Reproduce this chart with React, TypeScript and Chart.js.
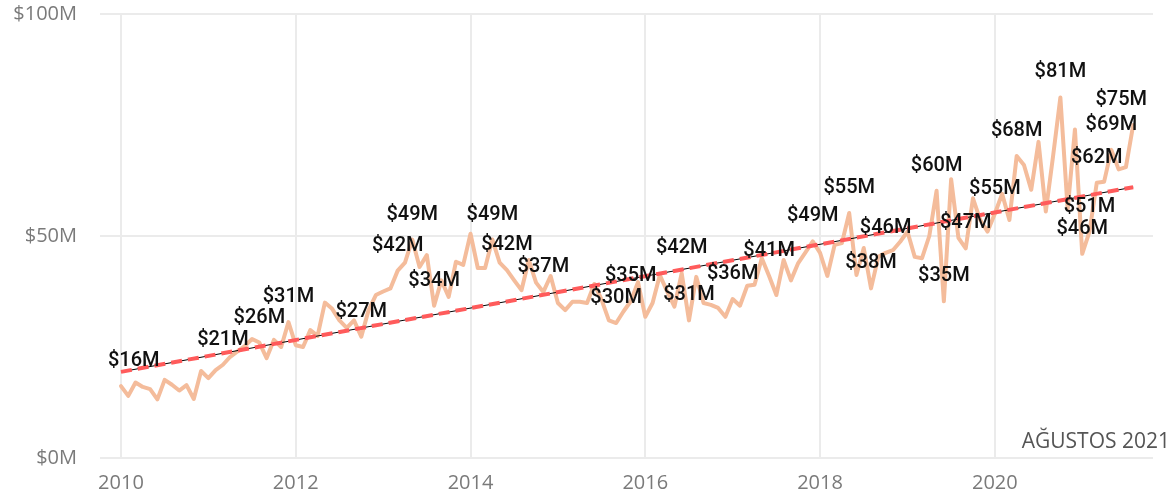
import React, { useEffect, useRef } from "react";
import { Chart, registerables } from "chart.js";

Chart.register(...registerables);

// Monthly revenue ($M), January 2010 – August 2021
const START_YEAR = 2010;
const monthlyRevenue: number[] = [
  16.2, 14.0, 17.0, 16.0, 15.5, 13.2, 17.6, 16.5, 15.2, 16.4, 13.3, 19.6,
  18.0, 19.8, 21.0, 22.8, 24.0, 25.2, 26.8, 26.0, 22.5, 26.6, 25.0, 30.6,
  25.4, 25.0, 28.8, 27.5, 35.0, 33.6, 31.0, 29.3, 31.0, 27.3, 33.3, 36.7,
  37.5, 38.2, 42.2, 44.0, 49.2, 43.0, 45.7, 34.3, 40.0, 36.3, 44.2, 43.5,
  50.5, 42.8, 42.8, 49.2, 44.0, 42.3, 40.0, 37.8, 44.6, 39.5, 37.4, 41.0,
  34.9, 33.3, 35.2, 35.2, 34.9, 39.2, 35.6, 31.0, 30.4, 33.0, 35.3, 39.6,
  31.8, 34.9, 41.2, 37.5, 34.1, 41.6, 31.0, 40.8, 34.9, 34.5, 33.8, 31.8,
  35.8, 34.3, 38.8, 39.0, 45.0, 41.0, 36.7, 44.6, 40.0, 43.9, 46.3, 48.8,
  46.2, 41.0, 48.0, 48.4, 55.2, 41.2, 47.3, 38.2, 45.3, 46.2, 46.8, 48.7,
  51.0, 45.3, 45.0, 50.0, 60.2, 35.3, 62.8, 49.6, 47.2, 58.5, 53.6, 51.0,
  55.0, 59.5, 53.6, 68.0, 66.0, 60.4, 71.2, 55.5, 68.0, 81.2, 56.0, 74.0,
  46.0, 51.0, 62.0, 62.2, 69.4, 65.0, 65.5, 75.0,
];

// Linear trend line end values ($M)
const trendStart = 19.4;
const trendEnd = 61.0;

// Months (index into monthlyRevenue) that carry a data label
const labeledMonths: number[] = [
  0, 14, 19, 23, 33, 38, 40, 43, 51, 53, 58, 68, 70, 77, 78, 84, 89, 95,
  100, 103, 105, 112, 113, 116, 120, 123, 129, 132, 133, 134, 136, 139,
];

const xTickYears: number[] = [2010, 2012, 2014, 2016, 2018, 2020];
const yTickValues: number[] = [0, 50, 100];
const periodNote = "AĞUSTOS 2021";

const X_MIN = 2009.76;
const X_MAX = 2021.81;

const TICK_FONT = "'Segoe UI', 'Open Sans', sans-serif";
const LABEL_FONT = "Roboto, 'DejaVu Sans', sans-serif";

export default function App() {
  const ref = useRef<HTMLCanvasElement>(null);

  useEffect(() => {
    const canvas = ref.current;
    if (!canvas) return;

    const points = monthlyRevenue.map((v, i) => ({ x: START_YEAR + i / 12, y: v }));
    const lastX = START_YEAR + (monthlyRevenue.length - 1) / 12;
    const trend = [
      { x: START_YEAR, y: trendStart },
      { x: lastX, y: trendEnd },
    ];

    const labelPlugin = {
      id: "pointLabels",
      afterDatasetsDraw(chart: any) {
        const meta = chart.getDatasetMeta(2);
        const ctx = chart.ctx as CanvasRenderingContext2D;
        const area = chart.chartArea;
        ctx.save();
        ctx.font = `500 20px ${LABEL_FONT}`;
        ctx.fillStyle = "#111111";
        ctx.textAlign = "center";
        ctx.textBaseline = "middle";
        labeledMonths.forEach((i) => {
          const el = meta.data[i];
          if (!el) return;
          const text = `$${Math.round(monthlyRevenue[i])}M`;
          const w = ctx.measureText(text).width;
          let cx = el.x;
          cx = Math.max(cx, area.left + 8 + w / 2);
          cx = Math.min(cx, area.right - 6 - w / 2);
          ctx.fillText(text, cx, el.y - 25);
        });
        ctx.font = `21px ${TICK_FONT}`;
        ctx.fillStyle = "#555555";
        ctx.textAlign = "right";
        ctx.fillText(periodNote, chart.width - 2, area.bottom - 16);
        ctx.restore();
      },
    };

    const chart = new Chart(canvas, {
      type: "line",
      data: {
        datasets: [
          {
            label: "Trend",
            data: trend,
            borderColor: "#FF5B5B",
            borderWidth: 4,
            borderDash: [11, 6],
            pointRadius: 0,
            tension: 0,
          },
          {
            label: "Trend line",
            data: trend,
            borderColor: "#000000",
            borderWidth: 1,
            pointRadius: 0,
            tension: 0,
          },
          {
            label: "Revenue",
            data: points,
            borderColor: "#F4BC9B",
            borderWidth: 4,
            pointRadius: 0,
            tension: 0,
            borderJoinStyle: "round",
            borderCapStyle: "round",
          },
        ],
      },
      options: {
        animation: false,
        responsive: true,
        maintainAspectRatio: false,
        layout: { padding: { top: 14, right: 19, bottom: 0, left: 0 } },
        plugins: {
          legend: { display: false },
          tooltip: { enabled: false },
        },
        scales: {
          x: {
            type: "linear",
            min: X_MIN,
            max: X_MAX,
            grid: { color: "#EBEBEB", lineWidth: 2, drawTicks: false },
            border: { display: false },
            ticks: {
              padding: 13,
              color: "#7A7A7A",
              font: { family: TICK_FONT, size: 20 },
              maxRotation: 0,
              autoSkip: false,
              callback: (v: any) => String(v),
            },
            afterBuildTicks: (s: any) => {
              s.ticks = xTickYears.map((v) => ({ value: v }));
            },
            afterFit: (s: any) => {
              s.height = 37;
            },
          },
          y: {
            min: 0,
            max: 100,
            grid: { color: "#EBEBEB", lineWidth: 2, drawTicks: false },
            border: { display: false },
            ticks: {
              padding: 23,
              color: "#7A7A7A",
              font: { family: TICK_FONT, size: 20 },
              callback: (v: any) => `$${v}M`,
            },
            afterBuildTicks: (s: any) => {
              s.ticks = yTickValues.map((v) => ({ value: v }));
            },
            afterFit: (s: any) => {
              s.width = 100;
              s.paddingTop = 0;
              s.paddingBottom = 0;
            },
          },
        },
      },
      plugins: [labelPlugin],
    } as any);

    return () => chart.destroy();
  }, []);

  return (
    <div style={{ position: "fixed", left: 0, top: 0, width: 1172, height: 495 }}>
      <canvas ref={ref} />
    </div>
  );
}
